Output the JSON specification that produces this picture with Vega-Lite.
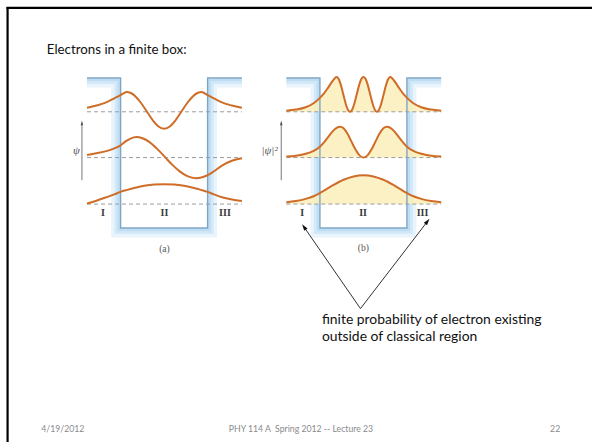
{
  "$schema": "https://vega.github.io/schema/vega-lite/v6.json",
  "width": 594,
  "height": 444,
  "autosize": {"type": "fit", "contains": "padding"},
  "padding": 0,
  "background": "white",
  "config": {"view": {"stroke": null}},
  "encoding": {
    "x": {"field": "x", "type": "quantitative", "scale": {"domain": [0, 594], "nice": false, "zero": false}, "axis": null},
    "y": {"field": "y", "type": "quantitative", "scale": {"domain": [0, 444], "reverse": true, "nice": false, "zero": false}, "axis": null}
  },
  "datasets": {
    "well": [
      {"panel": "a", "band": "outer", "i": 1, "x": 87.3, "y": 85.3}, {"panel": "a", "band": "outer", "i": 2, "x": 114, "y": 85.3}, {"panel": "a", "band": "outer", "i": 3, "x": 114, "y": 236}, {"panel": "a", "band": "outer", "i": 4, "x": 215.3, "y": 236}, {"panel": "a", "band": "outer", "i": 5, "x": 215.3, "y": 85.3}, {"panel": "a", "band": "outer", "i": 6, "x": 242.7, "y": 85.3},
      {"panel": "a", "band": "mid", "i": 1, "x": 87.3, "y": 82.5}, {"panel": "a", "band": "mid", "i": 2, "x": 116.8, "y": 82.5}, {"panel": "a", "band": "mid", "i": 3, "x": 116.8, "y": 233.2}, {"panel": "a", "band": "mid", "i": 4, "x": 212.5, "y": 233.2}, {"panel": "a", "band": "mid", "i": 5, "x": 212.5, "y": 82.5}, {"panel": "a", "band": "mid", "i": 6, "x": 242.7, "y": 82.5},
      {"panel": "a", "band": "inner", "i": 1, "x": 87.3, "y": 80.1}, {"panel": "a", "band": "inner", "i": 2, "x": 119.2, "y": 80.1}, {"panel": "a", "band": "inner", "i": 3, "x": 119.2, "y": 230.8}, {"panel": "a", "band": "inner", "i": 4, "x": 210.1, "y": 230.8}, {"panel": "a", "band": "inner", "i": 5, "x": 210.1, "y": 80.1}, {"panel": "a", "band": "inner", "i": 6, "x": 242.7, "y": 80.1},
      {"panel": "a", "band": "edge", "i": 1, "x": 87.3, "y": 78.3}, {"panel": "a", "band": "edge", "i": 2, "x": 121, "y": 78.3}, {"panel": "a", "band": "edge", "i": 3, "x": 121, "y": 229}, {"panel": "a", "band": "edge", "i": 4, "x": 208.3, "y": 229}, {"panel": "a", "band": "edge", "i": 5, "x": 208.3, "y": 78.3}, {"panel": "a", "band": "edge", "i": 6, "x": 242.7, "y": 78.3},
      {"panel": "b", "band": "outer", "i": 1, "x": 287.3, "y": 85.3}, {"panel": "b", "band": "outer", "i": 2, "x": 314, "y": 85.3}, {"panel": "b", "band": "outer", "i": 3, "x": 314, "y": 236}, {"panel": "b", "band": "outer", "i": 4, "x": 415.3, "y": 236}, {"panel": "b", "band": "outer", "i": 5, "x": 415.3, "y": 85.3}, {"panel": "b", "band": "outer", "i": 6, "x": 442.7, "y": 85.3},
      {"panel": "b", "band": "mid", "i": 1, "x": 287.3, "y": 82.5}, {"panel": "b", "band": "mid", "i": 2, "x": 316.8, "y": 82.5}, {"panel": "b", "band": "mid", "i": 3, "x": 316.8, "y": 233.2}, {"panel": "b", "band": "mid", "i": 4, "x": 412.5, "y": 233.2}, {"panel": "b", "band": "mid", "i": 5, "x": 412.5, "y": 82.5}, {"panel": "b", "band": "mid", "i": 6, "x": 442.7, "y": 82.5},
      {"panel": "b", "band": "inner", "i": 1, "x": 287.3, "y": 80.1}, {"panel": "b", "band": "inner", "i": 2, "x": 319.2, "y": 80.1}, {"panel": "b", "band": "inner", "i": 3, "x": 319.2, "y": 230.8}, {"panel": "b", "band": "inner", "i": 4, "x": 410.1, "y": 230.8}, {"panel": "b", "band": "inner", "i": 5, "x": 410.1, "y": 80.1}, {"panel": "b", "band": "inner", "i": 6, "x": 442.7, "y": 80.1},
      {"panel": "b", "band": "edge", "i": 1, "x": 287.3, "y": 78.3}, {"panel": "b", "band": "edge", "i": 2, "x": 321, "y": 78.3}, {"panel": "b", "band": "edge", "i": 3, "x": 321, "y": 229}, {"panel": "b", "band": "edge", "i": 4, "x": 408.3, "y": 229}, {"panel": "b", "band": "edge", "i": 5, "x": 408.3, "y": 78.3}, {"panel": "b", "band": "edge", "i": 6, "x": 442.7, "y": 78.3}
    ],
    "curves": [
      {"s": "a1", "panel": "a", "base": 205, "x": 87.3, "y": 204.5}, {"s": "a1", "panel": "a", "base": 205, "x": 96.7, "y": 201.6}, {"s": "a1", "panel": "a", "base": 205, "x": 106.7, "y": 198.2}, {"s": "a1", "panel": "a", "base": 205, "x": 114.7, "y": 195.3}, {"s": "a1", "panel": "a", "base": 205, "x": 121, "y": 192.7}, {"s": "a1", "panel": "a", "base": 205, "x": 127.7, "y": 190.7}, {"s": "a1", "panel": "a", "base": 205, "x": 134.7, "y": 188.8}, {"s": "a1", "panel": "a", "base": 205, "x": 144.7, "y": 186.7}, {"s": "a1", "panel": "a", "base": 205, "x": 154.7, "y": 185.4}, {"s": "a1", "panel": "a", "base": 205, "x": 164.7, "y": 185}, {"s": "a1", "panel": "a", "base": 205, "x": 174.7, "y": 185.4}, {"s": "a1", "panel": "a", "base": 205, "x": 184.7, "y": 186.7}, {"s": "a1", "panel": "a", "base": 205, "x": 194.7, "y": 188.8}, {"s": "a1", "panel": "a", "base": 205, "x": 201.7, "y": 190.7}, {"s": "a1", "panel": "a", "base": 205, "x": 208.3, "y": 192.7}, {"s": "a1", "panel": "a", "base": 205, "x": 214.7, "y": 195.3}, {"s": "a1", "panel": "a", "base": 205, "x": 222.7, "y": 198.1}, {"s": "a1", "panel": "a", "base": 205, "x": 232.7, "y": 200.4}, {"s": "a1", "panel": "a", "base": 205, "x": 242.7, "y": 202},
      {"s": "a2", "panel": "a", "base": 158.3, "x": 87.3, "y": 155.8}, {"s": "a2", "panel": "a", "base": 158.3, "x": 96.7, "y": 154}, {"s": "a2", "panel": "a", "base": 158.3, "x": 106.7, "y": 151.8}, {"s": "a2", "panel": "a", "base": 158.3, "x": 114.7, "y": 149}, {"s": "a2", "panel": "a", "base": 158.3, "x": 121, "y": 146}, {"s": "a2", "panel": "a", "base": 158.3, "x": 126, "y": 142}, {"s": "a2", "panel": "a", "base": 158.3, "x": 131, "y": 139.2}, {"s": "a2", "panel": "a", "base": 158.3, "x": 136.7, "y": 137.7}, {"s": "a2", "panel": "a", "base": 158.3, "x": 143, "y": 138.9}, {"s": "a2", "panel": "a", "base": 158.3, "x": 150, "y": 142.7}, {"s": "a2", "panel": "a", "base": 158.3, "x": 158, "y": 149.8}, {"s": "a2", "panel": "a", "base": 158.3, "x": 166, "y": 158.3}, {"s": "a2", "panel": "a", "base": 158.3, "x": 173, "y": 165.6}, {"s": "a2", "panel": "a", "base": 158.3, "x": 180, "y": 171.9}, {"s": "a2", "panel": "a", "base": 158.3, "x": 188, "y": 177}, {"s": "a2", "panel": "a", "base": 158.3, "x": 196.7, "y": 179}, {"s": "a2", "panel": "a", "base": 158.3, "x": 203, "y": 178}, {"s": "a2", "panel": "a", "base": 158.3, "x": 208.3, "y": 176}, {"s": "a2", "panel": "a", "base": 158.3, "x": 214.7, "y": 172}, {"s": "a2", "panel": "a", "base": 158.3, "x": 222.7, "y": 166.3}, {"s": "a2", "panel": "a", "base": 158.3, "x": 232.7, "y": 161.5}, {"s": "a2", "panel": "a", "base": 158.3, "x": 242.7, "y": 159},
      {"s": "a3", "panel": "a", "base": 112.3, "x": 87.3, "y": 108.3}, {"s": "a3", "panel": "a", "base": 112.3, "x": 96.7, "y": 106}, {"s": "a3", "panel": "a", "base": 112.3, "x": 106.7, "y": 102.8}, {"s": "a3", "panel": "a", "base": 112.3, "x": 114.7, "y": 98.8}, {"s": "a3", "panel": "a", "base": 112.3, "x": 121, "y": 95.5}, {"s": "a3", "panel": "a", "base": 112.3, "x": 127.2, "y": 92.5}, {"s": "a3", "panel": "a", "base": 112.3, "x": 130.7, "y": 93.2}, {"s": "a3", "panel": "a", "base": 112.3, "x": 135.7, "y": 96.6}, {"s": "a3", "panel": "a", "base": 112.3, "x": 141.7, "y": 103.7}, {"s": "a3", "panel": "a", "base": 112.3, "x": 147.5, "y": 112.3}, {"s": "a3", "panel": "a", "base": 112.3, "x": 153.7, "y": 121.4}, {"s": "a3", "panel": "a", "base": 112.3, "x": 158.7, "y": 126.8}, {"s": "a3", "panel": "a", "base": 112.3, "x": 164.7, "y": 129.3}, {"s": "a3", "panel": "a", "base": 112.3, "x": 170.7, "y": 126.8}, {"s": "a3", "panel": "a", "base": 112.3, "x": 175.7, "y": 121.4}, {"s": "a3", "panel": "a", "base": 112.3, "x": 181.9, "y": 112.3}, {"s": "a3", "panel": "a", "base": 112.3, "x": 187.7, "y": 103.7}, {"s": "a3", "panel": "a", "base": 112.3, "x": 193.7, "y": 96.6}, {"s": "a3", "panel": "a", "base": 112.3, "x": 198.7, "y": 93.2}, {"s": "a3", "panel": "a", "base": 112.3, "x": 202.2, "y": 92.5}, {"s": "a3", "panel": "a", "base": 112.3, "x": 208.3, "y": 95.5}, {"s": "a3", "panel": "a", "base": 112.3, "x": 214.7, "y": 98.8}, {"s": "a3", "panel": "a", "base": 112.3, "x": 222.7, "y": 102.8}, {"s": "a3", "panel": "a", "base": 112.3, "x": 232.7, "y": 106}, {"s": "a3", "panel": "a", "base": 112.3, "x": 242.7, "y": 108.3},
      {"s": "b1", "panel": "b", "base": 205, "x": 287.3, "y": 203.2}, {"s": "b1", "panel": "b", "base": 205, "x": 296.7, "y": 202}, {"s": "b1", "panel": "b", "base": 205, "x": 306.7, "y": 199.8}, {"s": "b1", "panel": "b", "base": 205, "x": 314.7, "y": 197.1}, {"s": "b1", "panel": "b", "base": 205, "x": 321, "y": 194}, {"s": "b1", "panel": "b", "base": 205, "x": 327.7, "y": 190}, {"s": "b1", "panel": "b", "base": 205, "x": 334.7, "y": 185.8}, {"s": "b1", "panel": "b", "base": 205, "x": 344.7, "y": 180.6}, {"s": "b1", "panel": "b", "base": 205, "x": 354.7, "y": 177.2}, {"s": "b1", "panel": "b", "base": 205, "x": 364.7, "y": 176}, {"s": "b1", "panel": "b", "base": 205, "x": 374.7, "y": 177.2}, {"s": "b1", "panel": "b", "base": 205, "x": 384.7, "y": 180.6}, {"s": "b1", "panel": "b", "base": 205, "x": 394.7, "y": 185.8}, {"s": "b1", "panel": "b", "base": 205, "x": 401.7, "y": 190}, {"s": "b1", "panel": "b", "base": 205, "x": 408.3, "y": 194}, {"s": "b1", "panel": "b", "base": 205, "x": 414.7, "y": 197.1}, {"s": "b1", "panel": "b", "base": 205, "x": 422.7, "y": 199.8}, {"s": "b1", "panel": "b", "base": 205, "x": 432.7, "y": 202}, {"s": "b1", "panel": "b", "base": 205, "x": 442.7, "y": 203.2},
      {"s": "b2", "panel": "b", "base": 158.3, "x": 287.3, "y": 157.3}, {"s": "b2", "panel": "b", "base": 158.3, "x": 296.7, "y": 156.4}, {"s": "b2", "panel": "b", "base": 158.3, "x": 306.7, "y": 154.5}, {"s": "b2", "panel": "b", "base": 158.3, "x": 314.7, "y": 151.5}, {"s": "b2", "panel": "b", "base": 158.3, "x": 321, "y": 147.3}, {"s": "b2", "panel": "b", "base": 158.3, "x": 325.7, "y": 142.3}, {"s": "b2", "panel": "b", "base": 158.3, "x": 329.7, "y": 137}, {"s": "b2", "panel": "b", "base": 158.3, "x": 333.7, "y": 132}, {"s": "b2", "panel": "b", "base": 158.3, "x": 337.7, "y": 128.5}, {"s": "b2", "panel": "b", "base": 158.3, "x": 341.2, "y": 127.3}, {"s": "b2", "panel": "b", "base": 158.3, "x": 344.7, "y": 128.9}, {"s": "b2", "panel": "b", "base": 158.3, "x": 348.7, "y": 134.4}, {"s": "b2", "panel": "b", "base": 158.3, "x": 352.7, "y": 142.3}, {"s": "b2", "panel": "b", "base": 158.3, "x": 356.7, "y": 150.3}, {"s": "b2", "panel": "b", "base": 158.3, "x": 360.7, "y": 156.1}, {"s": "b2", "panel": "b", "base": 158.3, "x": 364.7, "y": 158.3}, {"s": "b2", "panel": "b", "base": 158.3, "x": 368.7, "y": 156.1}, {"s": "b2", "panel": "b", "base": 158.3, "x": 372.7, "y": 150.3}, {"s": "b2", "panel": "b", "base": 158.3, "x": 376.7, "y": 142.3}, {"s": "b2", "panel": "b", "base": 158.3, "x": 380.7, "y": 134.4}, {"s": "b2", "panel": "b", "base": 158.3, "x": 384.7, "y": 128.9}, {"s": "b2", "panel": "b", "base": 158.3, "x": 388.2, "y": 127.3}, {"s": "b2", "panel": "b", "base": 158.3, "x": 391.7, "y": 128.5}, {"s": "b2", "panel": "b", "base": 158.3, "x": 395.7, "y": 132}, {"s": "b2", "panel": "b", "base": 158.3, "x": 399.7, "y": 137}, {"s": "b2", "panel": "b", "base": 158.3, "x": 403.7, "y": 142.3}, {"s": "b2", "panel": "b", "base": 158.3, "x": 408.3, "y": 147.3}, {"s": "b2", "panel": "b", "base": 158.3, "x": 414.7, "y": 151.5}, {"s": "b2", "panel": "b", "base": 158.3, "x": 422.7, "y": 154.5}, {"s": "b2", "panel": "b", "base": 158.3, "x": 432.7, "y": 156.4}, {"s": "b2", "panel": "b", "base": 158.3, "x": 442.7, "y": 157.3},
      {"s": "b3", "panel": "b", "base": 112.3, "x": 287.3, "y": 111.3}, {"s": "b3", "panel": "b", "base": 112.3, "x": 296.7, "y": 110.1}, {"s": "b3", "panel": "b", "base": 112.3, "x": 306.7, "y": 107.7}, {"s": "b3", "panel": "b", "base": 112.3, "x": 314.7, "y": 103.7}, {"s": "b3", "panel": "b", "base": 112.3, "x": 321, "y": 98.3}, {"s": "b3", "panel": "b", "base": 112.3, "x": 324.7, "y": 94.3}, {"s": "b3", "panel": "b", "base": 112.3, "x": 328.7, "y": 88.8}, {"s": "b3", "panel": "b", "base": 112.3, "x": 332.7, "y": 82.8}, {"s": "b3", "panel": "b", "base": 112.3, "x": 335.7, "y": 78.8}, {"s": "b3", "panel": "b", "base": 112.3, "x": 337.7, "y": 77.3}, {"s": "b3", "panel": "b", "base": 112.3, "x": 339.7, "y": 79.2}, {"s": "b3", "panel": "b", "base": 112.3, "x": 342.2, "y": 86.05}, {"s": "b3", "panel": "b", "base": 112.3, "x": 344.7, "y": 95.8}, {"s": "b3", "panel": "b", "base": 112.3, "x": 347.2, "y": 105.2}, {"s": "b3", "panel": "b", "base": 112.3, "x": 349.2, "y": 110.4}, {"s": "b3", "panel": "b", "base": 112.3, "x": 351.2, "y": 112.3}, {"s": "b3", "panel": "b", "base": 112.3, "x": 353.2, "y": 110.4}, {"s": "b3", "panel": "b", "base": 112.3, "x": 355.2, "y": 105.2}, {"s": "b3", "panel": "b", "base": 112.3, "x": 357.7, "y": 95.8}, {"s": "b3", "panel": "b", "base": 112.3, "x": 360.2, "y": 86.05}, {"s": "b3", "panel": "b", "base": 112.3, "x": 362.7, "y": 79.2}, {"s": "b3", "panel": "b", "base": 112.3, "x": 364.7, "y": 77.3}, {"s": "b3", "panel": "b", "base": 112.3, "x": 366.7, "y": 79.2}, {"s": "b3", "panel": "b", "base": 112.3, "x": 369.2, "y": 86.05}, {"s": "b3", "panel": "b", "base": 112.3, "x": 371.7, "y": 95.8}, {"s": "b3", "panel": "b", "base": 112.3, "x": 374.2, "y": 105.2}, {"s": "b3", "panel": "b", "base": 112.3, "x": 376.2, "y": 110.4}, {"s": "b3", "panel": "b", "base": 112.3, "x": 378.2, "y": 112.3}, {"s": "b3", "panel": "b", "base": 112.3, "x": 380.2, "y": 110.4}, {"s": "b3", "panel": "b", "base": 112.3, "x": 382.2, "y": 105.2}, {"s": "b3", "panel": "b", "base": 112.3, "x": 384.7, "y": 95.8}, {"s": "b3", "panel": "b", "base": 112.3, "x": 387.2, "y": 86.05}, {"s": "b3", "panel": "b", "base": 112.3, "x": 389.7, "y": 79.2}, {"s": "b3", "panel": "b", "base": 112.3, "x": 391.7, "y": 77.3}, {"s": "b3", "panel": "b", "base": 112.3, "x": 393.7, "y": 78.8}, {"s": "b3", "panel": "b", "base": 112.3, "x": 396.7, "y": 82.8}, {"s": "b3", "panel": "b", "base": 112.3, "x": 400.7, "y": 88.8}, {"s": "b3", "panel": "b", "base": 112.3, "x": 404.7, "y": 94.3}, {"s": "b3", "panel": "b", "base": 112.3, "x": 408.4, "y": 98.3}, {"s": "b3", "panel": "b", "base": 112.3, "x": 414.7, "y": 103.7}, {"s": "b3", "panel": "b", "base": 112.3, "x": 422.7, "y": 107.7}, {"s": "b3", "panel": "b", "base": 112.3, "x": 432.7, "y": 110.1}, {"s": "b3", "panel": "b", "base": 112.3, "x": 442.7, "y": 111.3}
    ],
    "levels": [
      {"x": 87.3, "x2": 242.7, "y": 112.3, "y2": 112.3}, {"x": 87.3, "x2": 242.7, "y": 158.3, "y2": 158.3}, {"x": 87.3, "x2": 242.7, "y": 205, "y2": 205},
      {"x": 287.3, "x2": 442.7, "y": 112.3, "y2": 112.3}, {"x": 287.3, "x2": 442.7, "y": 158.3, "y2": 158.3}, {"x": 287.3, "x2": 442.7, "y": 205, "y2": 205}
    ],
    "frame": [
      {"x": 6.5, "x2": 594, "y": 8, "y2": 8},
      {"x": 7.6, "x2": 7.6, "y": 7, "y2": 444}
    ],
    "valueAxes": [
      {"x": 82.2, "x2": 82.2, "y": 181, "y2": 124},
      {"x": 282.2, "x2": 282.2, "y": 181, "y2": 124}
    ],
    "valueAxisTips": [{"x": 82.2, "y": 123.5}, {"x": 282.2, "y": 123.5}],
    "pointers": [
      {"x": 361.7, "x2": 305, "y": 310, "y2": 228},
      {"x": 361.7, "x2": 428.9, "y": 310, "y2": 222.4}
    ],
    "tipLeft": [{"x": 305, "y": 228}],
    "tipRight": [{"x": 428.9, "y": 222.4}],
    "title": [{"t": "Electrons in a finite box:", "x": 47, "y": 54.5}],
    "note": [
      {"t": "finite probability of electron existing", "x": 323, "y": 325.5},
      {"t": "outside of classical region", "x": 323, "y": 343}
    ],
    "footer": [
      {"t": "4/19/2012", "x": 63, "y": 431},
      {"t": "PHY 114 A\u00a0 Spring 2012 -- Lecture 23", "x": 302, "y": 431},
      {"t": "22", "x": 557, "y": 431}
    ],
    "regions": [
      {"t": "I", "x": 103.3, "y": 214}, {"t": "II", "x": 165, "y": 214}, {"t": "III", "x": 225.7, "y": 214},
      {"t": "I", "x": 303.3, "y": 214}, {"t": "II", "x": 364.3, "y": 214}, {"t": "III", "x": 424, "y": 214}
    ],
    "captions": [{"t": "(a)", "x": 165, "y": 250}, {"t": "(b)", "x": 364.5, "y": 249.5}],
    "axisNames": [{"t": "ψ", "x": 76.7, "y": 152}, {"t": "|ψ|²", "x": 270.5, "y": 151.5}]
  },
  "layer": [
    {
      "data": {"name": "well"},
      "transform": [{"filter": "datum.band === 'outer'"}],
      "mark": {"type": "line", "color": "#e9f4fc", "strokeWidth": 5, "strokeJoin": "miter", "strokeCap": "butt"},
      "encoding": {"detail": {"field": "panel"}, "order": {"field": "i"}}
    },
    {
      "data": {"name": "well"},
      "transform": [{"filter": "datum.band === 'mid'"}],
      "mark": {"type": "line", "color": "#d4e9f8", "strokeWidth": 3.6, "strokeJoin": "miter", "strokeCap": "butt"},
      "encoding": {"detail": {"field": "panel"}, "order": {"field": "i"}}
    },
    {
      "data": {"name": "well"},
      "transform": [{"filter": "datum.band === 'inner'"}],
      "mark": {"type": "line", "color": "#bfddf3", "strokeWidth": 3, "strokeJoin": "miter", "strokeCap": "butt"},
      "encoding": {"detail": {"field": "panel"}, "order": {"field": "i"}}
    },
    {
      "data": {"name": "curves"},
      "transform": [{"filter": "datum.panel === 'b'"}],
      "mark": {"type": "area", "interpolate": "monotone", "color": "#fcefba", "opacity": 0.85},
      "encoding": {
        "y": {"field": "y", "type": "quantitative", "stack": null},
        "y2": {"field": "base"},
        "detail": {"field": "s"}
      }
    },
    {
      "data": {"name": "levels"},
      "mark": {"type": "rule", "color": "#9c9c9c", "strokeWidth": 1, "strokeDash": [4, 3]},
      "encoding": {"x2": {"field": "x2"}, "y2": {"field": "y2"}}
    },
    {
      "data": {"name": "well"},
      "transform": [{"filter": "datum.band === 'edge'"}],
      "mark": {"type": "line", "color": "#7fa5c5", "strokeWidth": 1.4, "strokeJoin": "miter", "strokeCap": "butt"},
      "encoding": {"detail": {"field": "panel"}, "order": {"field": "i"}}
    },
    {
      "data": {"name": "curves"},
      "mark": {"type": "line", "interpolate": "monotone", "color": "#cf6d28", "strokeWidth": 2},
      "encoding": {"detail": {"field": "s"}}
    },
    {
      "data": {"name": "valueAxes"},
      "mark": {"type": "rule", "color": "#777777", "strokeWidth": 1},
      "encoding": {"x2": {"field": "x2"}, "y2": {"field": "y2"}}
    },
    {
      "data": {"name": "valueAxisTips"},
      "mark": {"type": "point", "shape": "M0,-1L0.55,1L-0.55,1Z", "size": 22, "filled": true, "color": "#555555", "opacity": 1},
      "encoding": {}
    },
    {
      "data": {"name": "pointers"},
      "mark": {"type": "rule", "color": "#1a1a1a", "strokeWidth": 0.9},
      "encoding": {"x2": {"field": "x2"}, "y2": {"field": "y2"}}
    },
    {
      "data": {"name": "tipLeft"},
      "mark": {"type": "point", "shape": "M0,-1L0.6,1L-0.6,1Z", "size": 45, "angle": 325, "filled": true, "color": "#111111", "opacity": 1},
      "encoding": {}
    },
    {
      "data": {"name": "tipRight"},
      "mark": {"type": "point", "shape": "M0,-1L0.6,1L-0.6,1Z", "size": 45, "angle": 37.5, "filled": true, "color": "#111111", "opacity": 1},
      "encoding": {}
    },
    {
      "data": {"name": "title"},
      "mark": {"type": "text", "font": "Lato", "fontSize": 13.3, "color": "#111111", "align": "left", "baseline": "alphabetic"},
      "encoding": {"text": {"field": "t"}}
    },
    {
      "data": {"name": "note"},
      "mark": {"type": "text", "font": "Lato", "fontSize": 13.9, "color": "#111111", "align": "left", "baseline": "alphabetic"},
      "encoding": {"text": {"field": "t"}}
    },
    {
      "data": {"name": "footer"},
      "mark": {"type": "text", "font": "Lato", "fontSize": 8.7, "color": "#8a8a8a", "align": "center", "baseline": "middle"},
      "encoding": {"text": {"field": "t"}}
    },
    {
      "data": {"name": "regions"},
      "mark": {"type": "text", "font": "Liberation Serif", "fontSize": 10, "fontWeight": "bold", "color": "#3a3a3a", "align": "center", "baseline": "middle"},
      "encoding": {"text": {"field": "t"}}
    },
    {
      "data": {"name": "captions"},
      "mark": {"type": "text", "font": "Liberation Serif", "fontSize": 9.5, "color": "#555555", "align": "center", "baseline": "middle"},
      "encoding": {"text": {"field": "t"}}
    },
    {
      "data": {"name": "axisNames"},
      "mark": {"type": "text", "font": "Liberation Serif", "fontStyle": "italic", "fontSize": 11, "color": "#4a4a4a", "align": "center", "baseline": "middle"},
      "encoding": {"text": {"field": "t"}}
    },
    {
      "data": {"name": "frame"},
      "mark": {"type": "rule", "color": "#000000", "strokeWidth": 2.2},
      "encoding": {"x2": {"field": "x2"}, "y2": {"field": "y2"}}
    }
  ]
}
